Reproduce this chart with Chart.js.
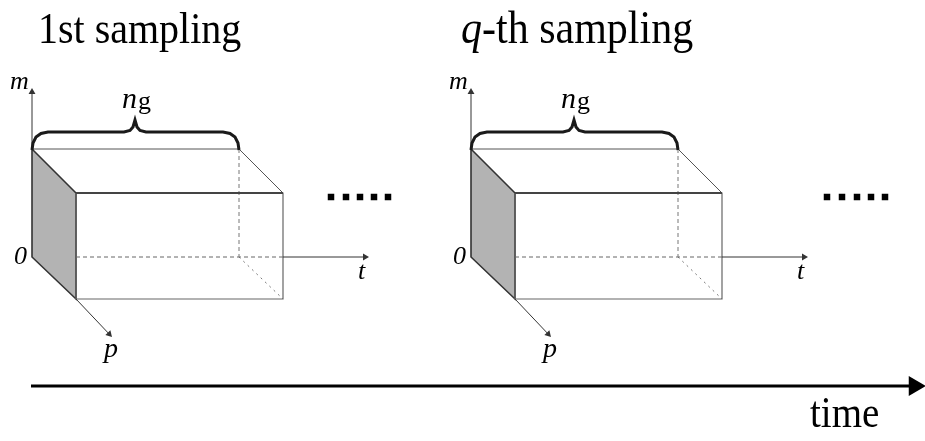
<!DOCTYPE html>
<html>
<head>
<meta charset="utf-8">
<script src="https://cdn.jsdelivr.net/npm/chart.js@4.4.1/dist/chart.umd.min.js"></script>
<style>
  html, body { margin: 0; padding: 0; background: #fff; }
  #wrap { position: relative; width: 925px; height: 441px; overflow: hidden; }
  #diagram { position: absolute; left: 0; top: 0; }
  .lbl { position: absolute; font-family: 'Liberation Serif', 'DejaVu Serif', serif; color: #000; line-height: 1; white-space: nowrap; }
  .it { font-style: italic; }
</style>
</head>
<body>
<div id="wrap">
  <canvas id="diagram" width="925" height="441"></canvas>
</div>
<script>
// Diagrama de muestreo: dos bloques (1st / q-th sampling) sobre un eje de tiempo
// coordenadas en unidades del lienzo (x hacia la derecha, y hacia abajo)

const samplingOffsets = [0, 439];

// bloque base (primer muestreo)
const sideFace = [[32,149],[76,193],[76,299],[32,257],[32,149]];
const frontFace = [[76,193],[283,193],[283,299],[76,299],[76,193]];
const frontTop = [[76,193],[283,193]];
const backTop = [[32,149],[239,149],[283,193]];
const hiddenVertical = [[239,149],[239,257]];
const hiddenFloor = [[76,257],[283,257]];
const hiddenDiagonal = [[239,257],[283,299]];
const braceCurve = [[32,150],[33,143],[36,137],[41,133.5],[48,132],[124,132],[130,130.5],[133,127],[135,120],[137,127],[140,130.5],[146,132],[223,132],[230,133.5],[235,137],[238,143],[239,150]];

// ejes: [inicio, punta]
const mAxis = [[32,149],[32,88]];
const tAxis = [[283,257],[369,257]];
const pAxis = [[76,299],[112,337]];

// puntos suspensivos
const dotsX = [[331,346,360,374,388],[827,842,857,871,885]];
const dotsY = 197;

// eje de tiempo
const timeAxis = [[31,386],[926,386]];

// textos
const titles = [
  { text: '1st sampling', x: 38, base: 43, size: 40 },
  { text: '<i>q</i>-th sampling', x: 461, base: 43, size: 42 },
  { text: 'time', x: 810, base: 427, size: 39 }
];
const axisLabels = [
  { text: 'm', x: 10, base: 90, size: 26 },
  { text: '0', x: 14, base: 265, size: 26 },
  { text: 't', x: 358, base: 280, size: 26 },
  { text: 'p', x: 104, base: 357, size: 28 },
  { text: 'n', x: 122, base: 108, size: 30 }
];
const subLabels = [
  { text: 'g', x: 138, base: 110, size: 26 }
];


function toPts(arr, dx) {
  return arr.map(p => ({ x: p[0] + dx, y: p[1] }));
}

function linea(arr, dx, color, width, dash) {
  return {
    data: toPts(arr, dx),
    showLine: true,
    borderColor: color,
    borderWidth: width,
    borderDash: dash || [],
    pointRadius: 0,
    fill: false,
    tension: 0
  };
}

function flecha(arr, dx, color, width, head) {
  const a = arr[0], b = arr[1];
  const vx = b[0] - a[0], vy = b[1] - a[1];
  const len = Math.hypot(vx, vy);
  const cx = b[0] - vx / len * head, cy = b[1] - vy / len * head;
  const ang = Math.atan2(vx, -vy) * 180 / Math.PI;
  return {
    data: [{ x: a[0] + dx, y: a[1] }, { x: cx + dx, y: cy }],
    showLine: true,
    borderColor: color,
    borderWidth: width,
    pointRadius: [0, head],
    pointStyle: 'triangle',
    rotation: [0, ang],
    pointBackgroundColor: color,
    pointBorderColor: color,
    pointBorderWidth: 0,
    fill: false,
    tension: 0
  };
}

const datasets = [];

samplingOffsets.forEach((dx, i) => {
  datasets.push(linea(braceCurve, dx, '#1a1a1a', 3));
  datasets.push(flecha(mAxis, dx, '#333', 1, 4));
  datasets.push(flecha(tAxis, dx, '#333', 1, 4));
  datasets.push(flecha(pAxis, dx, '#333', 1, 4));
  datasets.push(linea(frontTop, dx, '#444', 2));
  datasets.push(linea(frontFace, dx, '#666', 1.2));
  datasets.push(linea(backTop, dx, '#555', 1));
  datasets.push(linea(hiddenVertical, dx, '#777', 1, [4, 3]));
  datasets.push(linea(hiddenFloor, dx, '#666', 1, [4, 3]));
  datasets.push(linea(hiddenDiagonal, dx, '#777', 1, [2, 4]));
  datasets.push({
    data: toPts(sideFace, dx),
    showLine: true,
    borderColor: '#333',
    borderWidth: 1.6,
    backgroundColor: '#b3b3b3',
    pointRadius: 0,
    fill: 'shape',
    tension: 0
  });
  datasets.push({
    data: dotsX[i].map(x => ({ x: x, y: dotsY })),
    showLine: false,
    pointStyle: 'rect',
    pointRadius: 4.6,
    pointBackgroundColor: '#000',
    pointBorderWidth: 0
  });
});

datasets.push(flecha(timeAxis, 0, '#000', 3, 11.5));

const chart = new Chart(document.getElementById('diagram'), {
  type: 'scatter',
  data: { datasets: datasets },
  options: {
    responsive: false,
    animation: false,
    devicePixelRatio: 1,
    events: [],
    layout: { padding: 0, autoPadding: false },
    clip: false,
    plugins: { legend: { display: false }, tooltip: { enabled: false } },
    scales: {
      x: { type: 'linear', min: 0, max: 925, display: false },
      y: { type: 'linear', min: 0, max: 441, reverse: true, display: false }
    }
  }
});

// colocar textos usando las escalas del grafico
const wrap = document.getElementById('wrap');
const sx = chart.scales.x, sy = chart.scales.y;

function ponerTexto(html, x, base, size, italic, estirar) {
  const d = document.createElement('div');
  d.className = 'lbl' + (italic ? ' it' : '');
  d.style.fontSize = size + 'px';
  d.style.left = sx.getPixelForValue(x) + 'px';
  d.style.top = (sy.getPixelForValue(base) - 0.8375 * size) + 'px';
  if (estirar) {
    // el original tiene los titulos algo alargados en vertical
    d.style.transformOrigin = '0 ' + (0.8375 * size) + 'px';
    d.style.transform = 'scaleY(' + estirar + ')';
  }
  d.innerHTML = html;
  wrap.appendChild(d);
}

titles.forEach(t => ponerTexto(t.text, t.x, t.base, t.size, false, 1.12));
samplingOffsets.forEach(dx => {
  axisLabels.forEach(l => ponerTexto(l.text, l.x + dx, l.base, l.size, true));
  subLabels.forEach(l => ponerTexto(l.text, l.x + dx, l.base, l.size, false));
});
</script>
</body>
</html>
